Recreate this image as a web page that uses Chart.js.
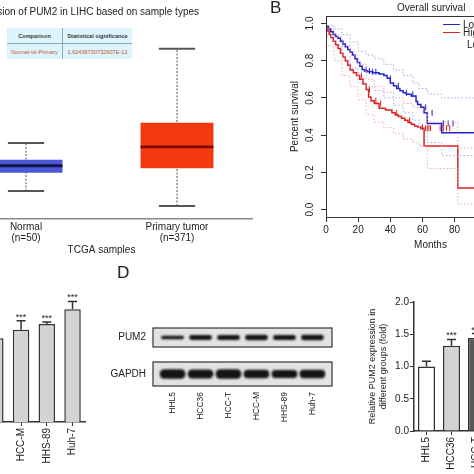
<!DOCTYPE html>
<html>
<head>
<meta charset="utf-8">
<script src="https://cdn.jsdelivr.net/npm/chart.js@4.4.0/dist/chart.umd.min.js"></script>
<style>
  html, body { margin: 0; padding: 0; background: #fff; }
  #fig { position: relative; width: 474px; height: 474px; overflow: hidden; background: #fff;
         font-family: "Liberation Sans", Arial, sans-serif; color: #222; }
  #fig canvas { position: absolute; }
  .txt { position: absolute; white-space: nowrap; font-size: 10px; line-height: 12px; }
  .big { font-size: 17px; line-height: 20px; }
  .legline { position: absolute; width: 17px; height: 0; }
  table.sig { position: absolute; left: 7px; top: 28px; width: 125px; height: 30px;
              border-collapse: collapse; background: #dcf4fb; font-size: 5.6px; text-align: center; }
  table.sig th { color: #3a3a3a; font-weight: bold; border-bottom: 1px solid #8fa9b3; height: 15px; padding: 0; }
  table.sig td { color: #c4582c; height: 15px; padding: 0; }
  table.sig th:first-child, table.sig td:first-child { border-right: 1px solid #8fa9b3; width: 55px; }
</style>
</head>
<body>
<div id="fig">
  <canvas id="boxA" width="360" height="262" style="left:-100px;top:0"></canvas>
  <canvas id="kmB" width="300" height="253" style="left:240px;top:0"></canvas>
  <canvas id="barC" width="210" height="187" style="left:-120px;top:280px"></canvas>
  <canvas id="blotPum2" width="240" height="45" style="left:100px;top:315px"></canvas>
  <canvas id="blotGapdh" width="240" height="85" style="left:100px;top:349px"></canvas>
  <canvas id="barE" width="230" height="186" style="left:350px;top:290px"></canvas>

  <div class="txt" style="right:275px;top:6px">Expression of PUM2 in LIHC based on sample types</div>
  <table class="sig">
    <tr><th>Comparison</th><th>Statistical significance</th></tr>
    <tr><td>Normal-vs-Primary</td><td>1.62436730732907E-12</td></tr>
  </table>

  <div class="txt big" style="left:270px;top:-2px">B</div>
  <div class="txt" style="left:397px;top:2px">Overall survival</div>
  <div class="legline" style="left:443px;top:24px;border-top:1.5px solid #2424cc"></div>
  <div class="txt" style="left:463px;top:19px">Low PUM2 TPM</div>
  <div class="legline" style="left:443px;top:32px;border-top:1.5px solid #dd2222"></div>
  <div class="txt" style="left:463px;top:27px">High PUM2 TPM</div>
  <div class="txt" style="left:467px;top:39px">Logrank p=0.0046</div>

  <div class="txt big" style="left:117px;top:263px">D</div>
</div>
<script>
Chart.defaults.font.family = '"Liberation Sans", Arial, sans-serif';
Chart.defaults.font.size = 10;
Chart.defaults.color = "#222";
Chart.defaults.animation = false;
Chart.defaults.responsive = false;
Chart.defaults.devicePixelRatio = 1;
Chart.defaults.plugins.legend.display = false;
Chart.defaults.plugins.tooltip.enabled = false;

// A - box plot (TPM)
const boxCats = ["Normal", "Primary tumor"];
const boxN = ["(n=50)", "(n=371)"];
const boxMin = [4.3, 2.0];
const boxQ1 = [7.1, 7.8];
const boxMed = [8.2, 11.1];
const boxQ3 = [9.1, 14.8];
const boxMax = [11.7, 26.2];

// B - Kaplan-Meier
const lowMonths = [0, 1.5, 3, 4.5, 6, 7.5, 9, 10.5, 12, 13.5, 15, 16.5, 18, 19.5, 21, 22.5, 24, 26, 29, 33,
  36, 38, 40, 42, 44, 46, 48, 50, 53, 56, 57, 59, 61, 63, 72, 83, 130];
const lowSurv = [1, 0.985, 0.97, 0.955, 0.94, 0.93, 0.92, 0.905, 0.89, 0.875, 0.86, 0.845, 0.83, 0.81, 0.79, 0.77, 0.752, 0.745, 0.74, 0.735,
  0.728, 0.72, 0.705, 0.68, 0.665, 0.65, 0.638, 0.627, 0.62, 0.61, 0.58, 0.565, 0.55, 0.52, 0.463, 0.413, 0.413];
const highMonths = [0, 1, 2, 3, 4.5, 6, 7.5, 9, 10.5, 12, 13.5, 15, 17, 19, 21, 23, 25, 26.5, 28, 30,
  33, 37, 41, 43, 45, 47, 49, 51, 53, 55, 57, 59, 61, 82, 84.5, 130];
const highSurv = [1, 0.98, 0.96, 0.94, 0.925, 0.905, 0.885, 0.865, 0.84, 0.82, 0.8, 0.775, 0.75, 0.735, 0.72, 0.7, 0.675, 0.645, 0.605, 0.585,
  0.57, 0.545, 0.535, 0.52, 0.51, 0.5, 0.49, 0.48, 0.468, 0.458, 0.449, 0.443, 0.437, 0.342, 0.116, 0.116];
const ciMonths = [0, 5, 10, 15, 20, 25, 30, 36, 42, 48, 54, 58, 63, 72, 83, 130];
const lowUpper = [1, 0.99, 0.97, 0.94, 0.9, 0.85, 0.83, 0.81, 0.78, 0.75, 0.72, 0.68, 0.65, 0.62, 0.6, 0.6];
const lowLower = [1, 0.93, 0.88, 0.82, 0.76, 0.68, 0.66, 0.64, 0.6, 0.56, 0.52, 0.48, 0.43, 0.36, 0.29, 0.29];
const hiCiMonths = [0, 5, 10, 15, 20, 25, 30, 36, 42, 48, 54, 58, 63, 82, 84.5, 130];
const highUpper = [1, 0.97, 0.93, 0.88, 0.83, 0.78, 0.7, 0.66, 0.63, 0.6, 0.57, 0.55, 0.54, 0.47, 0.33, 0.33];
const highLower = [1, 0.88, 0.8, 0.72, 0.66, 0.59, 0.51, 0.47, 0.44, 0.41, 0.38, 0.36, 0.34, 0.22, 0.03, 0.03];
const lowCensor = [25, 27, 29, 31, 40, 45, 50, 54, 62, 66, 73, 76, 79];
const highCensor = [22, 27, 31, 34, 44, 52, 60, 62, 63, 64, 65, 71, 73, 75, 77];
const kmXTicks = [0, 20, 40, 60, 80, 100, 120];
const kmYTicks = [0, 0.2, 0.4, 0.6, 0.8, 1.0];

// C, D, E - cell lines
const lanes = ["HHL5", "HCC36", "HCC-T", "HCC-M", "HHS-89", "Huh-7"];
const mrnaMean = [1.0, 1.18, 1.30, 1.43, 1.52, 1.75];
const mrnaErr = [0.06, 0.09, 0.1, 0.14, 0.03, 0.12];
const mrnaSig = ["", "***", "***", "***", "***", "***"];
const pum2Band = [0.15, 0.22, 0.24, 0.25, 0.23, 0.25];
const gapdhBand = [0.36, 0.35, 0.36, 0.33, 0.31, 0.33];
const protMean = [1.0, 1.32, 1.44, 1.58, 1.66, 1.8];
const protErr = [0.08, 0.1, 0.07, 0.09, 0.08, 0.1];
const protSig = ["", "***", "***", "***", "***", "***"];
const protTicks = [0, 0.5, 1.0, 1.5, 2.0];

function survAt(times, surv, t) {
  let s = surv[0];
  times.forEach((m, i) => { if (m <= t) s = surv[i]; });
  return s;
}

const plotBox = {
  id: "plotBox",
  afterDraw(chart) {
    const { ctx, chartArea: a } = chart;
    ctx.save();
    ctx.strokeStyle = "#333";
    ctx.lineWidth = 1;
    ctx.strokeRect(a.left + 0.5, a.top + 0.5, a.width, a.height);
    ctx.restore();
  }
};

const errorBars = {
  id: "errorBars",
  afterDatasetsDraw(chart) {
    const { ctx, scales: { y } } = chart;
    const ds = chart.data.datasets[0];
    ctx.save();
    ctx.strokeStyle = "#333";
    ctx.fillStyle = "#222";
    ctx.lineWidth = 1.5;
    ctx.font = '9px "Liberation Sans", Arial, sans-serif';
    ctx.textAlign = "center";
    chart.getDatasetMeta(0).data.forEach((bar, i) => {
      const top = y.getPixelForValue(ds.data[i] + ds.errors[i]);
      ctx.beginPath();
      ctx.moveTo(bar.x, bar.y);
      ctx.lineTo(bar.x, top);
      ctx.moveTo(bar.x - 4.5, top);
      ctx.lineTo(bar.x + 4.5, top);
      ctx.stroke();
      if (ds.stars[i]) ctx.fillText(ds.stars[i], bar.x, top - 1);
    });
    ctx.restore();
  }
};

const blotFrame = {
  id: "blotFrame",
  beforeDatasetsDraw(chart) {
    const { ctx, chartArea: a } = chart;
    ctx.save();
    ctx.fillStyle = "#e3e3e3";
    ctx.fillRect(a.left, a.top, a.width, a.height);
    ctx.filter = "blur(1.2px)";
  },
  afterDatasetsDraw(chart) {
    const { ctx, chartArea: a } = chart;
    ctx.restore();
    ctx.save();
    ctx.strokeStyle = "#333";
    ctx.lineWidth = 1.2;
    ctx.strokeRect(a.left, a.top, a.width, a.height);
    ctx.restore();
  }
};

// ---- A
const boxBar = { barPercentage: 0.483, categoryPercentage: 1, grouped: false };
const capBar = { barPercentage: 0.24, categoryPercentage: 1, grouped: false, backgroundColor: "#555" };
new Chart(document.getElementById("boxA"), {
  type: "bar",
  data: {
    labels: boxCats,
    datasets: [
      ...boxCats.map((c, i) => ({
        type: "line",
        data: [{ x: c, y: boxMin[i] }, { x: c, y: boxMax[i] }],
        borderColor: "#555", borderWidth: 1, borderDash: [2, 1.5], pointRadius: 0, order: 5
      })),
      { ...boxBar, data: boxCats.map((c, i) => [boxQ1[i], boxQ3[i]]), backgroundColor: ["#4a58d6", "#f2390f"], order: 3 },
      { ...boxBar, data: boxCats.map((c, i) => [boxMed[i] - 0.22, boxMed[i] + 0.22]), backgroundColor: ["#15154a", "#7d0a00"], order: 2 },
      { ...capBar, data: boxCats.map((c, i) => [boxMin[i] - 0.15, boxMin[i] + 0.15]), order: 1 },
      { ...capBar, data: boxCats.map((c, i) => [boxMax[i] - 0.15, boxMax[i] + 0.15]), order: 1 }
    ]
  },
  options: {
    layout: { padding: { left: 50.5, right: 7.5, top: 24, bottom: 0 } },
    scales: {
      x: {
        grid: { display: false, drawTicks: false },
        border: { color: "#8a8a8a", width: 1.5 },
        ticks: { padding: 2, font: { size: 10, lineHeight: 1.15 }, callback: (v, i) => [boxCats[i], boxN[i]] },
        title: { display: true, text: "TCGA samples", padding: { top: 0, bottom: 6 } },
        afterFit: s => { s.height = 43; }
      },
      y: { display: false, min: 0, max: 30 }
    }
  }
});

// ---- B
const kmLine = (months, surv, color, width, dash) => ({
  data: months.map((m, i) => ({ x: m, y: surv[i] })),
  borderColor: color, borderWidth: width, borderDash: dash, stepped: "after", pointRadius: 0, fill: false
});
const censorPts = (list, months, surv, color) => ({
  data: list.map(t => ({ x: t, y: survAt(months, surv, t) })),
  showLine: false, pointStyle: "line", rotation: 90, pointRadius: 3, borderColor: color, borderWidth: 1
});
new Chart(document.getElementById("kmB"), {
  type: "line",
  data: {
    datasets: [
      kmLine(ciMonths, lowUpper, "#a3abe8", 1, [1.5, 2]),
      kmLine(ciMonths, lowLower, "#a3abe8", 1, [1.5, 2]),
      kmLine(hiCiMonths, highUpper, "#f3a4a4", 1, [1.5, 2]),
      kmLine(hiCiMonths, highLower, "#f3a4a4", 1, [1.5, 2]),
      kmLine(highMonths, highSurv, "#dd2222", 1.5, []),
      kmLine(lowMonths, lowSurv, "#2424cc", 1.5, []),
      censorPts(highCensor, highMonths, highSurv, "#dd2222"),
      censorPts(lowCensor, lowMonths, lowSurv, "#2424cc")
    ]
  },
  options: {
    layout: { padding: { top: 16, left: 0, right: 0, bottom: 0 } },
    scales: {
      x: {
        type: "linear", min: 0, max: 130,
        grid: { drawOnChartArea: false, tickLength: 5, color: "#333" },
        border: { color: "#333" },
        ticks: { padding: 2, maxRotation: 0 },
        afterBuildTicks: s => { s.ticks = kmXTicks.map(v => ({ value: v })); },
        title: { display: true, text: "Months", padding: { top: 0, bottom: 2 } },
        afterFit: s => { s.height = 36; }
      },
      y: {
        min: -0.04, max: 1.04,
        grid: { drawOnChartArea: false, tickLength: 5, color: "#333" },
        border: { color: "#333" },
        ticks: { minRotation: 90, maxRotation: 90, crossAlign: "center", padding: 4, callback: v => v.toFixed(1) },
        afterBuildTicks: s => { s.ticks = kmYTicks.map(v => ({ value: v })); },
        title: { display: true, text: "Percent survival", padding: { top: 49 } },
        afterFit: s => { s.width = 86; }
      }
    }
  },
  plugins: [plotBox]
});

// ---- C
const laneAxis = {
  grid: { drawOnChartArea: false, offset: false, tickLength: 4, color: "#333" },
  border: { color: "#333", width: 1.5 },
  ticks: { minRotation: 90, maxRotation: 90, padding: 2 },
  afterFit: s => { s.height = 45; }
};
new Chart(document.getElementById("barC"), {
  type: "bar",
  data: {
    labels: lanes,
    datasets: [{
      data: mrnaMean, errors: mrnaErr, stars: mrnaSig,
      backgroundColor: "#d3d3d3", borderColor: "#333", borderWidth: 1.5,
      barPercentage: 0.64, categoryPercentage: 1
    }]
  },
  options: {
    layout: { padding: { left: 51, right: 4.6, top: 13, bottom: 0 } },
    scales: { x: laneAxis, y: { display: false, min: 0, max: 2 } }
  },
  plugins: [errorBars]
});

// ---- D
function blotChart(id, name, density, thick, showLanes) {
  return new Chart(document.getElementById(id), {
    type: "bar",
    data: {
      datasets: [{
        data: lanes.map((l, i) => ({ x: i + 1, y: [0.5 - density[i] / 2, 0.5 + density[i] / 2] })),
        backgroundColor: "#141414", barThickness: thick, borderRadius: 5, borderSkipped: false
      }]
    },
    options: {
      layout: { padding: { top: 8, right: 8, bottom: showLanes ? 0 : 7, left: 0 } },
      scales: {
        x: {
          type: "linear", min: 0.3, max: 6.7, offset: false, display: showLanes,
          grid: { display: false, drawTicks: false }, border: { display: false },
          ticks: { minRotation: 90, maxRotation: 90, padding: 6, font: { size: 8.5 }, callback: v => lanes[v - 1] },
          afterBuildTicks: s => { s.ticks = lanes.map((l, i) => ({ value: i + 1 })); },
          afterFit: s => { s.height = showLanes ? 48 : 0; }
        },
        y: {
          min: 0, max: 1,
          grid: { display: false, drawTicks: false }, border: { display: false },
          ticks: { padding: 7, callback: () => name },
          afterBuildTicks: s => { s.ticks = [{ value: 0.5 }]; },
          afterFit: s => { s.width = 53; }
        }
      }
    },
    plugins: [blotFrame]
  });
}
blotChart("blotPum2", "PUM2", pum2Band, 22, false);
blotChart("blotGapdh", "GAPDH", gapdhBand, 25, true);

// ---- E
new Chart(document.getElementById("barE"), {
  type: "bar",
  data: {
    labels: lanes,
    datasets: [{
      data: protMean, errors: protErr, stars: protSig,
      backgroundColor: ["#ffffff", "#d3d3d3", "#595959", "#8c8c8c", "#b0b0b0", "#3c3c3c"],
      borderColor: "#333", borderWidth: 1.5,
      barPercentage: 0.68, categoryPercentage: 1
    }]
  },
  options: {
    layout: { padding: { left: 0, right: 16, top: 12, bottom: 0 } },
    scales: {
      x: laneAxis,
      y: {
        min: 0, max: 2,
        grid: { drawOnChartArea: false, tickLength: 4, color: "#333" },
        border: { color: "#333", width: 1.5 },
        ticks: { padding: 1, callback: v => v.toFixed(1) },
        afterBuildTicks: s => { s.ticks = protTicks.map(v => ({ value: v })); },
        title: {
          display: true, text: ["Relative PUM2 expression in", "different groups (fold)"],
          font: { size: 9 }, padding: { top: 17.6 }
        },
        afterFit: s => { s.width = 64; }
      }
    }
  },
  plugins: [errorBars]
});
</script>
</body>
</html>
